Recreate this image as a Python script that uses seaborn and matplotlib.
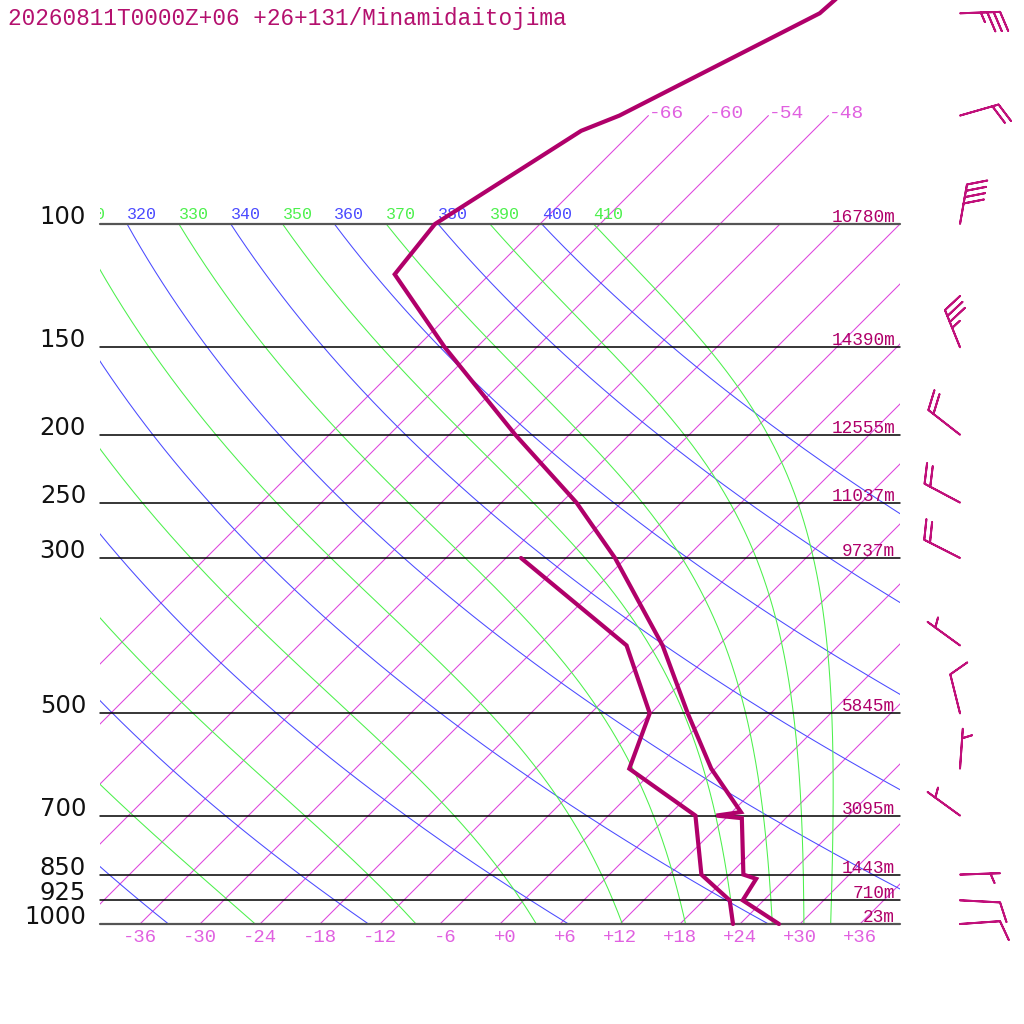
import numpy as np
import pandas as pd
import seaborn as sns
import matplotlib.pyplot as plt
from matplotlib.patches import Rectangle
from matplotlib.transforms import Bbox, TransformedBbox, offset_copy

sns.set_style('white')
plt.rcParams['font.family'] = ['DejaVu Sans']
MONO = 'Liberation Mono'

title = '20260811T0000Z+06 +26+131/Minamidaitojima'

# pressure levels with their heights
levels = [1000, 925, 850, 700, 500, 300, 250, 200, 150, 100]
heights = ['23m', '710m', '1443m', '3095m', '5845m', '9737m',
           '11037m', '12555m', '14390m', '16780m']

# temperature profile (hPa, degC)
temp_p = [1000, 925, 862, 850, 706, 700, 692, 600, 500, 400, 300, 250,
          200, 150, 118, 100, 73.6, 70, 50, 30]
temp_t = [27.9, 21.9, 21.1, 19.4, 13.6, 10.8, 12.9, 5.6, -2.3, -11.6,
          -25.1, -34.5, -47.4, -63.2, -75.5, -76.5, -71.2, -68.9, -59.1, -57.0]

# dewpoint profile
dew_p = [1000, 925, 850, 700, 600, 500, 400, 300]
dew_t = [23.3, 20.6, 15.2, 8.7, -2.6, -6.1, -15.2, -34.5]

# winds
wind_p = [1000, 925, 850, 700, 600, 500, 400, 300, 250, 200, 150, 100, 70, 50]
wind_dir = [86, 93, 88, 306, 4, 346, 306, 297, 298, 308, 338, 10, 74, 88]
wind_kt = [10, 10, 5, 5, 5, 10, 5, 20, 20, 20, 35, 40, 20, 35]

isotherms = list(range(-66, 37, 6))
top_isotherms = [-66, -60, -54, -48]
dry_thetas = list(range(240, 401, 20))
moist_thetas = list(range(250, 411, 20))
label_thetas = list(range(310, 411, 10))
tick_temps = list(range(-36, 37, 6))

C_PROF = '#b0006a'
C_ISO = '#dd44dd'
C_ISO_TXT = '#e060e0'
C_BLUE = '#4a4aff'
C_GREEN = '#4cf04c'

Rd, Cp, Lv, eps = 287.04, 1005.7, 2.501e6, 0.622
kappa = Rd / Cp


def skx(t, p):
    return np.asarray(t, float) + 70 * np.log10(1000 / np.asarray(p, float))


def sat_mix(T, p):
    es = 6.112 * np.exp(17.67 * (T - 273.15) / (T - 29.65))
    return eps * es / (p - es)


def moist_dTdp(T, p):
    rs = sat_mix(T, p)
    return (Rd * T + Lv * rs) / (Cp + Lv ** 2 * rs * eps / (Rd * T ** 2)) / p


def moist_curve(theta, pres):
    T = theta * (pres[0] / 1000) ** kappa
    out = [T]
    for p0, p1 in zip(pres[:-1], pres[1:]):
        h = p1 - p0
        k1 = moist_dTdp(T, p0)
        k2 = moist_dTdp(T + h / 2 * k1, p0 + h / 2)
        k3 = moist_dTdp(T + h / 2 * k2, p0 + h / 2)
        k4 = moist_dTdp(T + h * k3, p1)
        T = T + h / 6 * (k1 + 2 * k2 + 2 * k3 + k4)
        out.append(T)
    return np.array(out) - 273.15


fig = plt.figure(figsize=(10.24, 10.24), dpi=100)
ax = fig.add_axes([0, 0, 1, 1])
ax.set_yscale('log')
ax.set_xlim(-50, 52.4)
ax.set_ylim(1000 * 10 ** (100 / 700), 1000 / 10 ** (924 / 700))
ax.axis('off')

clip = Rectangle((-40, 60), 80, 940, transform=ax.transData)
clip_box = TransformedBbox(Bbox([[-40, 80], [40, 1000]]), ax.transData)

# isotherms
for t in isotherms:
    ptop = 70 if t in top_isotherms else 100
    pp = np.array([1000, ptop])
    ln, = ax.plot(skx(t, pp), pp, color=C_ISO, lw=0.75, zorder=1)
    ln.set_clip_path(clip)
for t in top_isotherms:
    ax.text(skx(t, 70), 70, f'{t:d}', family=MONO, fontsize=14, color=C_ISO_TXT,
            ha='left', va='baseline',
            transform=offset_copy(ax.transData, fig, y=-2, units='dots'))

# dry adiabats
pd_ = np.geomspace(1000, 100, 60)
for th in dry_thetas:
    tt = th * (pd_ / 1000) ** kappa - 273.15
    ln, = ax.plot(skx(tt, pd_), pd_, color=C_BLUE, lw=0.75, zorder=1)
    ln.set_clip_path(clip)

# moist adiabats
pm = np.geomspace(100, 1000, 300)
for th in moist_thetas:
    tt = moist_curve(th, pm)
    ln, = ax.plot(skx(tt, pm), pm, color=C_GREEN, lw=0.75, zorder=1)
    ln.set_clip_path(clip)

# theta labels along 100 hPa (the first one is cut by the frame edge)
for th in label_thetas:
    col = C_BLUE if th in dry_thetas else C_GREEN
    x0 = float(skx(th * 0.1 ** kappa - 273.15, 100))
    s = str(th)
    if x0 < -40:
        # only the part right of the frame shows
        x0 += 2.0
        s = s[2:]
    txt = ax.text(x0, 100, s, family=MONO, fontsize=12, color=col,
                  ha='left', va='baseline',
                  transform=offset_copy(ax.transData, fig, y=5, units='dots'))
    txt.set_clip_box(clip_box)
    txt.set_clip_on(True)

# pressure lines and labels
for p, h in zip(levels, heights):
    edge = p in (100, 1000)
    ax.plot([-40, 40], [p, p], color='#555555' if edge else 'black',
            lw=1.6 if edge else 1.1, zorder=2)
    ax.text(-41.4, p, str(p), fontsize=17.5, color='#111111',
            ha='right', va='baseline')
    ax.text(39.5, p, h, family=MONO, fontsize=12.8, color=C_PROF,
            ha='right', va='baseline', zorder=3,
            transform=offset_copy(ax.transData, fig, y=2, units='dots'))

for t in tick_temps:
    ax.text(t + 1.7, 1061, f'{t:+d}', family=MONO, fontsize=13.6,
            color=C_ISO_TXT, ha='right', va='baseline')

# profiles
prof = pd.DataFrame({'x': skx(temp_t, temp_p), 'p': temp_p})
dew = pd.DataFrame({'x': skx(dew_t, dew_p), 'p': dew_p})
sns.lineplot(data=prof, x='x', y='p', sort=False, estimator=None, ax=ax,
             color=C_PROF, lw=3.0, zorder=5, solid_joinstyle='miter')
sns.lineplot(data=dew, x='x', y='p', sort=False, estimator=None, ax=ax,
             color=C_PROF, lw=3.0, zorder=5, solid_joinstyle='miter')
ax.axis('off')

# wind barbs
rad = np.deg2rad(wind_dir)
spd = np.array(wind_kt, float)
u = -spd * np.sin(rad)
v = -spd * np.cos(rad)
ax.barbs(np.full(len(wind_p), 46.0), wind_p, u, v, length=7.6,
         color='#c0107a', linewidth=1.4, zorder=6, clip_on=False,
         sizes=dict(spacing=0.16, height=0.48, width=0.37))

fig.text(8 / 1024, 1 - 25 / 1024, title, family=MONO, fontsize=16.4,
         color='#b4106e', ha='left', va='baseline')

fig.savefig('out.png', dpi=100)
